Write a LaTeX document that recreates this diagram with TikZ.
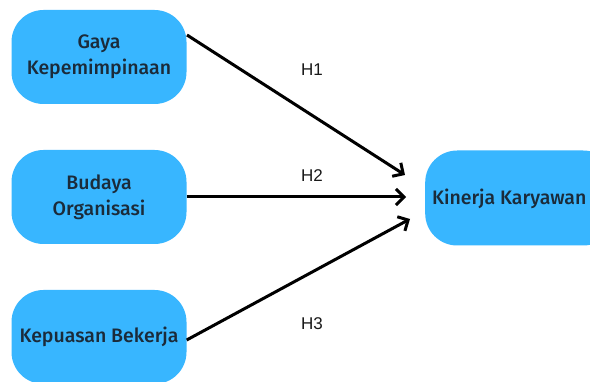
\documentclass[tikz,border=0pt]{standalone}
\usepackage{fontspec}
\setmainfont{Fira Sans}[BoldFont={Fira Sans Medium}]
\newfontfamily\hfont{Liberation Sans}
\usetikzlibrary{arrows.meta}
\definecolor{boxblue}{HTML}{38B6FF}
\definecolor{boxtext}{HTML}{1B2B3A}
\begin{document}
\begin{tikzpicture}[x=1pt,y=-1pt,
  varbox/.style={fill=boxblue, rounded corners=32pt, inner sep=0pt, align=center,
    text=boxtext, font=\fontsize{19.5}{26}\selectfont\bfseries},
  link/.style={line width=3pt, -{Straight Barb[length=8pt,width=16pt,line width=3pt]}},
  hlabel/.style={font=\hfont\fontsize{17}{19}\selectfont, text=black!90}]
\useasboundingbox[fill=white] (0,0) rectangle (590,382);
\node[varbox, minimum width=175pt, minimum height=94pt] (gaya) at (99,57) {Gaya\\Kepemimpinaan};
\node[varbox, minimum width=175pt, minimum height=94pt] (budaya) at (99,197) {Budaya\\Organisasi};
\node[varbox, minimum width=175pt, minimum height=94pt] (kepuasan) at (99,337) {Kepuasan Bekerja};
\node[varbox, minimum width=190pt, minimum height=95pt, anchor=west] (kinerja) at (425,198) {};
\node[anchor=west, inner sep=0pt, text=boxtext, font=\fontsize{19.5}{25}\selectfont\bfseries] (kinerjatext) at (432,199) {Kinerja Karyawan};
\coordinate (s1) at (187,35);
\coordinate (t1) at (405,175);
\coordinate (t2) at (406,197);
\coordinate (t3) at (410,219);
\draw[link] (s1) -- (t1);
\draw[link] (budaya.east) -- (t2);
\draw[link] (kepuasan.east) ++(0,3) -- (t3);
\node[hlabel] (h1) at (312,70) {H1};
\node[hlabel] (h2) at (312,176) {H2};
\node[hlabel] (h3) at (312,324) {H3};
\end{tikzpicture}
\end{document}
